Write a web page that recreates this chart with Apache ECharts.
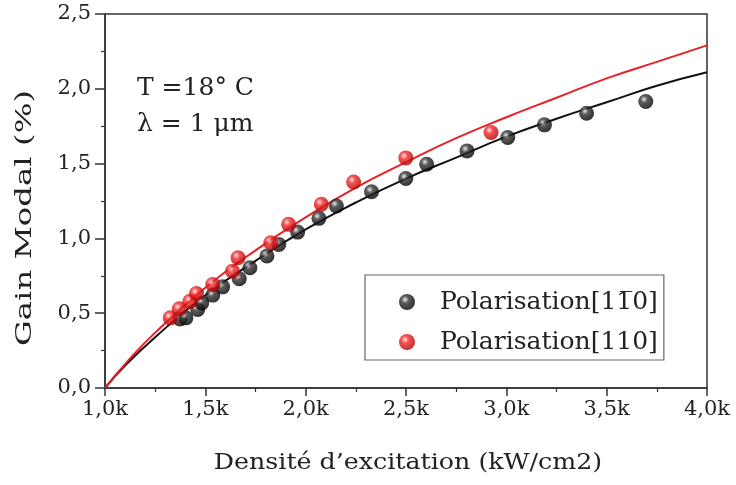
<!DOCTYPE html>
<html><head><meta charset="utf-8">
<script src="https://cdn.jsdelivr.net/npm/echarts@6/dist/echarts.min.js"></script>
<style>html,body{margin:0;padding:0;background:#fff}#c{width:736px;height:485px}</style>
</head><body><div id="c"></div>
<script>
// Data (x in k·kW/cm2, y = modal gain %)
const blackX = [1.374,1.403,1.462,1.482,1.537,1.586,1.669,1.722,1.807,1.866,1.960,2.066,2.153,2.328,2.499,2.603,2.804,3.007,3.190,3.400,3.695];
const blackY = [0.462,0.469,0.525,0.569,0.621,0.676,0.730,0.804,0.882,0.960,1.042,1.134,1.217,1.312,1.400,1.496,1.585,1.674,1.759,1.837,1.915];
const redX = [1.325,1.370,1.423,1.456,1.537,1.635,1.663,1.826,1.915,2.078,2.239,2.499,2.924];
const redY = [0.469,0.529,0.580,0.632,0.692,0.781,0.871,0.971,1.094,1.228,1.377,1.538,1.708];
const fitX = [1.0,1.1,1.25,1.5,1.75,2.0,2.25,2.5,2.75,3.0,3.25,3.5,3.75,4.0];
const fitBlack = [0,0.15,0.34,0.62,0.85,1.06,1.24,1.40,1.54,1.68,1.80,1.91,2.02,2.11];
const fitRed = [0,0.16,0.37,0.67,0.92,1.14,1.34,1.51,1.67,1.81,1.94,2.07,2.18,2.29];
const xTicks = [1.0,1.5,2.0,2.5,3.0,3.5,4.0];
const yTicks = [0,0.5,1.0,1.5,2.0,2.5];
const seriesNames = ['Polarisation[11\u03050]','Polarisation[110]'];
const xName = 'Densité d\u2019excitation (kW/cm2)';
const yName = 'Gain Modal (%)';

const zip = (a,b) => a.map((v,i)=>[v,b[i]]);
const FONT = 'DejaVu Serif';
const TXT = '#222';
const ball = (hi, mid, dark) => ({type:'radial',x:0.38,y:0.35,r:0.65,colorStops:[{offset:0,color:hi},{offset:0.35,color:mid},{offset:1,color:dark}]});
const blackBall = ball('#e8e8e8','#333','#000');
const redBall = ball('#ffe0e0','#f02828','#b00000');

const chart = echarts.init(document.getElementById('c'));
chart.setOption({
  animation:false,
  backgroundColor:'#fff',
  grid:{left:105,right:29,top:14,bottom:97,show:true,borderColor:'#333',borderWidth:1.5,backgroundColor:'transparent'},
  xAxis:{type:'value',min:xTicks[0],max:xTicks[xTicks.length-1],interval:0.5,
    axisLine:{show:true,lineStyle:{color:'#333',width:1.5}},
    axisTick:{show:true,inside:false,length:8,lineStyle:{color:'#333',width:1.5}},
    minorTick:{show:true,splitNumber:2,length:4,lineStyle:{color:'#333',width:1.2}},
    splitLine:{show:false},
    axisLabel:{fontFamily:FONT,fontSize:21,color:TXT,margin:11,formatter:v=>v.toFixed(1).replace('.',',')+'k'}},
  yAxis:{type:'value',min:yTicks[0],max:yTicks[yTicks.length-1],interval:0.5,
    axisLine:{show:true,lineStyle:{color:'#333',width:1.5}},
    axisTick:{show:true,inside:false,length:10,lineStyle:{color:'#333',width:1.5}},
    minorTick:{show:true,splitNumber:2,length:4,lineStyle:{color:'#333',width:1.2}},
    splitLine:{show:false},
    axisLabel:{fontFamily:FONT,fontSize:21,color:TXT,margin:14,formatter:v=>v.toFixed(1).replace('.',',')}},
  legend:{data:seriesNames,orient:'vertical',left:365,top:275,
    padding:[13,6,4,34],itemGap:12,itemWidth:16,itemHeight:16,
    borderColor:'#666',borderWidth:1.2,backgroundColor:'#fff',icon:'circle',
    textStyle:{fontFamily:FONT,fontSize:25,lineHeight:28,color:TXT,padding:[0,0,0,20]}},
  graphic:[
    {type:'text',left:137,top:76,style:{text:'T =18° C',font:'25px "DejaVu Serif"',fill:TXT}},
    {type:'text',left:137,top:112,style:{text:'\u03bb = 1 \u03bcm',font:'25px "DejaVu Serif"',fill:TXT}},
    {type:'text',x:408,y:463,scaleX:1.1,style:{text:xName,font:'23px "DejaVu Serif"',fill:TXT,align:'center',verticalAlign:'middle'}},
    {type:'text',x:25,y:218,rotation:Math.PI/2,scaleX:1.35,scaleY:0.95,style:{text:yName,font:'24px "DejaVu Serif"',fill:TXT,align:'center',verticalAlign:'middle'}}
  ],
  series:[
    {name:'fitBlack',type:'line',data:zip(fitX,fitBlack),smooth:true,symbol:'none',lineStyle:{color:'#111',width:2},z:2,silent:true},
    {name:'fitRed',type:'line',data:zip(fitX,fitRed),smooth:true,symbol:'none',lineStyle:{color:'#e8202a',width:2},z:2,silent:true},
    {name:seriesNames[0],type:'scatter',data:zip(blackX,blackY),symbolSize:15,itemStyle:{color:blackBall},z:3},
    {name:seriesNames[1],type:'scatter',data:zip(redX,redY),symbolSize:15,itemStyle:{color:redBall},z:4}
  ]
});
</script></body></html>
